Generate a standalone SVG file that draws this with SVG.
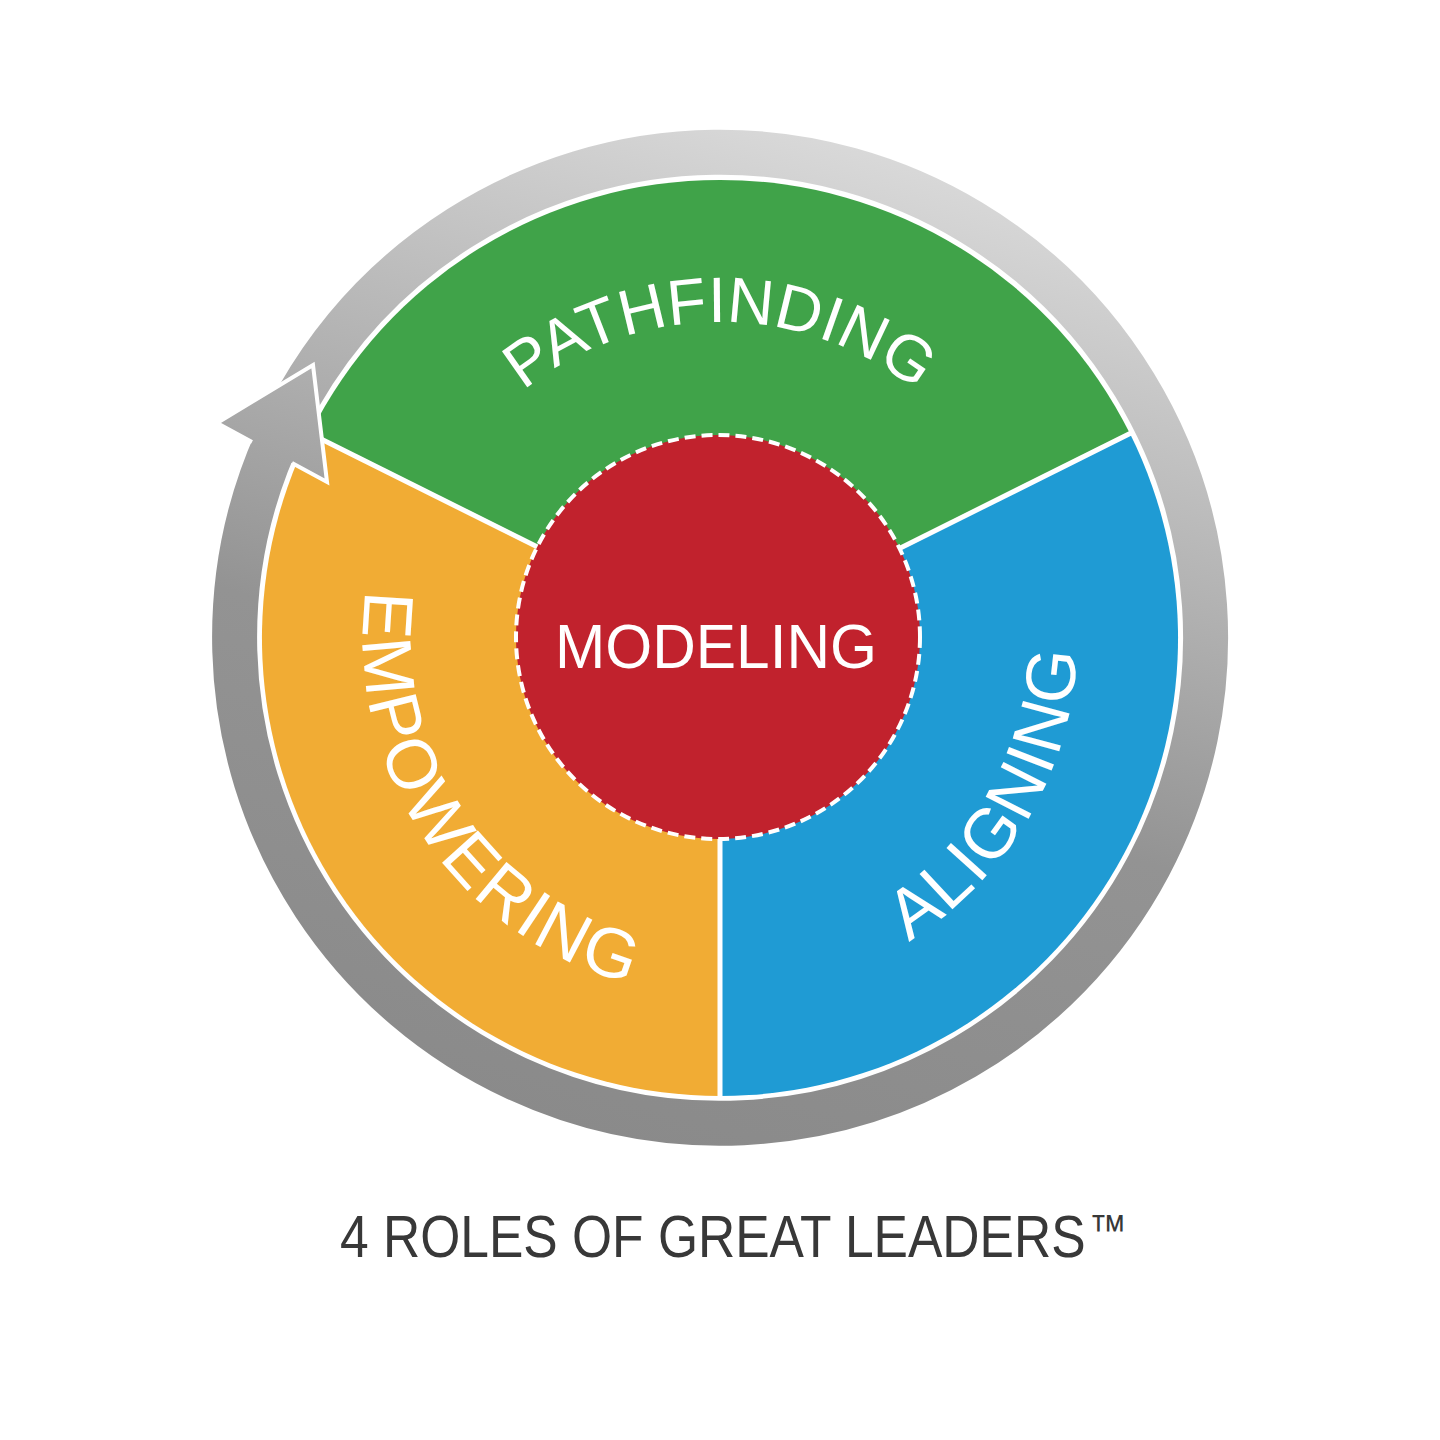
<svg xmlns="http://www.w3.org/2000/svg" width="1440" height="1440" viewBox="0 0 1440 1440">
<defs>
<linearGradient id="ringGrad" gradientUnits="userSpaceOnUse" x1="900" y1="130" x2="600" y2="1140">
<stop offset="0" stop-color="#dcdcdc"/>
<stop offset="0.35" stop-color="#b2b2b2"/>
<stop offset="0.6" stop-color="#939393"/>
<stop offset="1" stop-color="#8a8a8a"/>
</linearGradient>
<path id="arcPath" d="M 404 638 A 316 316 0 0 1 1036 638"/>
<path id="arcAlign" d="M 720 995 A 357 357 0 0 0 1029.2 459.5"/>
<path id="arcEmp" d="M 399.1 481.5 A 357 357 0 0 0 744.9 994.1"/>
</defs>
<style>
.lbl { font-family: "Liberation Sans", Arial, sans-serif; fill: #ffffff; }
.divider { stroke: #ffffff; stroke-width: 5; fill: none; }
.cap { font-family: "Liberation Sans", Arial, sans-serif; fill: #383838; }
</style>
<rect width="1440" height="1440" fill="#ffffff"/>
<g id="connectors">
<path d="M 299.5 395.25 A 485.5 485.5 0 1 1 283.6 425.2" fill="none" stroke="url(#ringGrad)" stroke-width="45"/>
</g>
<g id="pathfinding">
<path d="M 720 638 L 310.1 433.6 A 458 458 0 0 1 1129.9 433.6 Z" fill="#40a349"/>
<text class="lbl" font-size="64"><textPath href="#arcPath" startOffset="50%" text-anchor="middle">PATHFINDING</textPath></text>
</g>
<g id="aligning">
<path d="M 720 638 L 1129.9 433.6 A 458 458 0 0 1 720 1096 Z" fill="#1f9bd4"/>
<text class="lbl" font-size="70" letter-spacing="2"><textPath href="#arcAlign" startOffset="50%" text-anchor="middle">ALIGNING</textPath></text>
</g>
<g id="empowering">
<path d="M 720 638 L 720 1096 A 458 458 0 0 1 310.1 433.6 Z" fill="#f1ac34"/>
<text class="lbl" font-size="70" letter-spacing="2.5"><textPath href="#arcEmp" startOffset="50%" text-anchor="middle">EMPOWERING</textPath></text>
</g>
<g id="dividers">
<line class="divider" x1="720" y1="638" x2="720" y2="1100"/>
<line class="divider" x1="720" y1="638" x2="1133" y2="432"/>
<line class="divider" x1="720" y1="638" x2="307" y2="432"/>
</g>
<g id="modeling">
<circle cx="718" cy="637" r="202" fill="#c1222d" stroke="#ffffff" stroke-width="4" stroke-dasharray="11 6"/>
<text class="lbl" x="716" y="668" font-size="63" text-anchor="middle" textLength="322" lengthAdjust="spacingAndGlyphs">MODELING</text>
</g>
<g id="arrowhead">
<polygon points="252,442 217,423 313,365 327,482 292,463" fill="url(#ringGrad)"/>
<polyline points="252,442 217,423 313,365 327,482 292,463" fill="none" stroke="#ffffff" stroke-width="4" stroke-linejoin="miter"/>
</g>
<g id="caption">
<text class="cap" transform="translate(340,1257) scale(0.859,1)" x="0" y="0" font-size="60">4 ROLES OF GREAT LEADERS<tspan font-size="44" dx="4" dy="-12">™</tspan></text>
</g>
</svg>
